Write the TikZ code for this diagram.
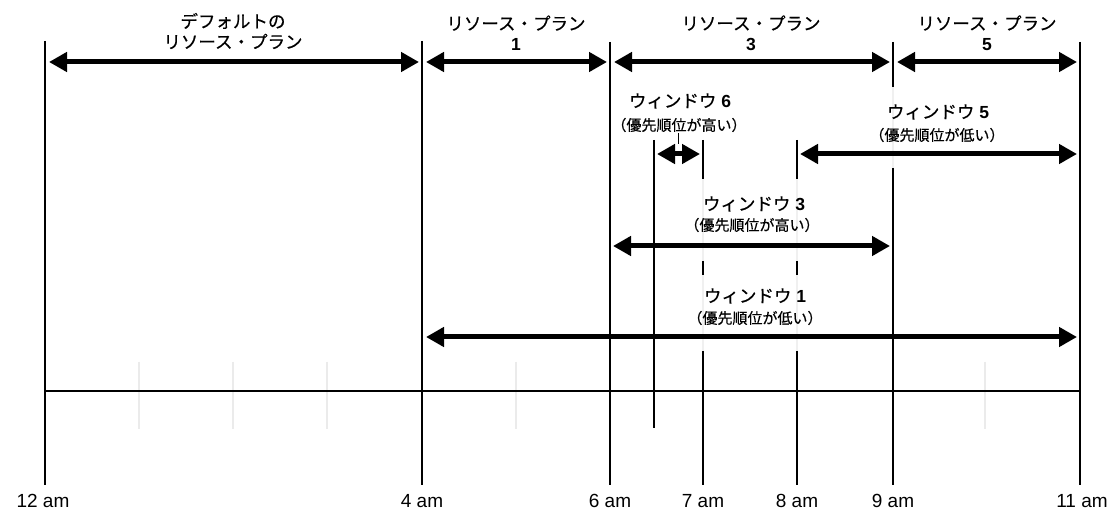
\documentclass[tikz,border=0pt]{standalone}
\usepackage{fontspec}
\setmainfont{Liberation Sans}
\newfontfamily\jp[FakeBold=0.4]{Noto Sans CJK JP}
\usetikzlibrary{arrows.meta}
\tikzset{
  vline/.style={line width=2.8bp, black},
  faintline/.style={line width=1.5bp, black!6},
  graytick/.style={line width=1.5bp, black!8},
  axisline/.style={line width=2bp, black},
  spanarrow/.style={line width=5bp, {Triangle[length=18bp,width=19bp]}-{Triangle[length=18bp,width=19bp]}},
  hourlabel/.style={font=\fontsize{19bp}{22bp}\selectfont, inner sep=0pt, anchor=center},
  planlabel/.style={font=\fontsize{17.5bp}{20.5bp}\selectfont, align=center, inner sep=0pt, anchor=center},
  wtitle/.style={font=\fontsize{17.5bp}{20bp}\selectfont, inner sep=0pt, anchor=center},
  wsub/.style={font=\jp\fontsize{15bp}{18bp}\selectfont, inner sep=0pt, anchor=center},
  leader/.style={line width=1bp, black}
}
\begin{document}
\begin{tikzpicture}[x=1bp,y=-1bp]
\useasboundingbox[fill=white] (0,0) rectangle (1116,512);

% gray hour ticks
\foreach \gx/\gn in {139/a,233/b,327/c,516/d,985/e}{
  \coordinate (gt\gn) at (\gx,362);
  \coordinate (gb\gn) at (\gx,429);
  \draw[graytick] (gt\gn) -- (gb\gn);
}

% faint continuations
\coordinate (f7a) at (703,179); \coordinate (f7b) at (703,351);
\coordinate (f8a) at (797,179); \coordinate (f8b) at (797,351);
\coordinate (f9a) at (893,87);  \coordinate (f9b) at (893,168);
\draw[faintline] (f7a) -- (f7b);
\draw[faintline] (f8a) -- (f8b);
\draw[faintline] (f9a) -- (f9b);

% axis
\coordinate (axL) at (45,391); \coordinate (axR) at (1080,391);
\draw[axisline] (axL) -- (axR);

% vertical lines
\coordinate (t0) at (45,41);   \coordinate (b0) at (45,485);
\coordinate (t4) at (422,41);  \coordinate (b4) at (422,485);
\coordinate (t6) at (610,42);  \coordinate (b6) at (610,485);
\coordinate (t65) at (654,140); \coordinate (b65) at (654,428);
\coordinate (t11) at (1080,42); \coordinate (b11) at (1080,485);
\draw[vline] (t0) -- (b0);
\draw[vline] (t4) -- (b4);
\draw[vline] (t6) -- (b6);
\draw[vline] (t65) -- (b65);
\draw[vline] (t11) -- (b11);
% 7 am
\coordinate (s7a) at (703,140); \coordinate (e7a) at (703,179);
\coordinate (s7b) at (703,261); \coordinate (e7b) at (703,275);
\coordinate (s7c) at (703,351); \coordinate (b7) at (703,485);
\draw[vline] (s7a) -- (e7a);
\draw[vline] (s7b) -- (e7b);
\draw[vline] (s7c) -- (b7);
% 8 am
\coordinate (s8a) at (797,140); \coordinate (e8a) at (797,179);
\coordinate (s8b) at (797,261); \coordinate (e8b) at (797,275);
\coordinate (s8c) at (797,351); \coordinate (b8) at (797,485);
\draw[vline] (s8a) -- (e8a);
\draw[vline] (s8b) -- (e8b);
\draw[vline] (s8c) -- (b8);
% 9 am
\coordinate (t9) at (893,42);  \coordinate (e9a) at (893,87);
\coordinate (s9b) at (893,168); \coordinate (b9) at (893,485);
\draw[vline] (t9) -- (e9a);
\draw[vline] (s9b) -- (b9);

% span arrows
\coordinate (dA) at (49,62);   \coordinate (dB) at (419,62);
\coordinate (p1A) at (426,62); \coordinate (p1B) at (607,62);
\coordinate (p3A) at (614,62); \coordinate (p3B) at (890,62);
\coordinate (p5A) at (897,62); \coordinate (p5B) at (1077,62);
\coordinate (w6A) at (657,154); \coordinate (w6B) at (700,154);
\coordinate (w5A) at (800,154); \coordinate (w5B) at (1077,154);
\coordinate (w3A) at (613,246); \coordinate (w3B) at (890,246);
\coordinate (w1A) at (426,337); \coordinate (w1B) at (1077,337);
\draw[spanarrow] (dA) -- (dB);
\draw[spanarrow] (p1A) -- (p1B);
\draw[spanarrow] (p3A) -- (p3B);
\draw[spanarrow] (p5A) -- (p5B);
\draw[spanarrow] (w6A) -- (w6B);
\draw[spanarrow] (w5A) -- (w5B);
\draw[spanarrow] (w3A) -- (w3B);
\draw[spanarrow] (w1A) -- (w1B);

% plan labels
\node[planlabel] (ldef) at (233,31) {{\jp デフォルトの}\\{\jp リソース・プラン}};
\node[planlabel] (lp1) at (516,33) {{\jp リソース・プラン}\\\textbf{1}};
\node[planlabel] (lp3) at (751,33) {{\jp リソース・プラン}\\\textbf{3}};
\node[planlabel] (lp5) at (987,33) {{\jp リソース・プラン}\\\textbf{5}};

% window labels
\node[wtitle] (w6t) at (680,101) {{\jp ウィンドウ} \textbf{6}};
\node[wsub]   (w6s) at (679,125) {（優先順位が高い）};
\node[wtitle] (w5t) at (938,112) {{\jp ウィンドウ} \textbf{5}};
\node[wsub]   (w5s) at (937,135) {（優先順位が低い）};
\node[wtitle] (w3t) at (754,204) {{\jp ウィンドウ} \textbf{3}};
\node[wsub]   (w3s) at (752,225) {（優先順位が高い）};
\node[wtitle] (w1t) at (755,296) {{\jp ウィンドウ} \textbf{1}};
\node[wsub]   (w1s) at (755,318) {（優先順位が低い）};

% leader from window 6 label to its arrow
\coordinate (ld6a) at (678,133); \coordinate (ld6b) at (678,144);
\draw[leader] (ld6a) -- (ld6b);

% hour labels
\node[hourlabel] (h0)  at (43,501)   {12 am};
\node[hourlabel] (h4)  at (422,501)  {4 am};
\node[hourlabel] (h6)  at (610,501)  {6 am};
\node[hourlabel] (h7)  at (703,501)  {7 am};
\node[hourlabel] (h8)  at (797,501)  {8 am};
\node[hourlabel] (h9)  at (893,501)  {9 am};
\node[hourlabel] (h11) at (1082,501) {11 am};
\end{tikzpicture}
\end{document}
